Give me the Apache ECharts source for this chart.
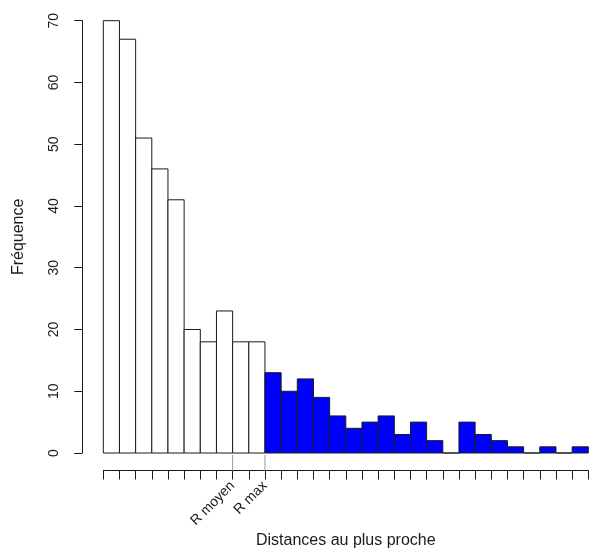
<!DOCTYPE html>
<html>
<head>
<meta charset="utf-8">
<script src="https://cdn.jsdelivr.net/npm/echarts@6/dist/echarts.min.js"></script>
<style>
  html, body { margin: 0; padding: 0; background: #fff; }
  #chart { width: 589px; height: 550px; }
</style>
</head>
<body>
<div id="chart"></div>
<script>
// Histogram counts per distance class (first classes up to R max, then beyond)
var countsWithin = [70, 67, 51, 46, 41, 20, 18, 23, 18, 18];
var countsBeyond = [13, 10, 12, 9, 6, 4, 5, 6, 3, 5, 2, 0, 5, 3, 2, 1, 0, 1, 0, 1];

// Class boundaries that carry a label on the x axis
var markerBreaks = [8, 10];
var markerLabels = ['R moyen', 'R max'];

var yTicks = [0, 10, 20, 30, 40, 50, 60, 70];

var FONT = 'Liberation Sans, Arial, Helvetica, sans-serif';
var INK = '#1a1a1a';

var nBins = countsWithin.length + countsBeyond.length;
var barData = [];
countsWithin.forEach(function (v, i) { barData.push([i, v, 0]); });
countsBeyond.forEach(function (v, i) { barData.push([countsWithin.length + i, v, 1]); });

var markerData = markerBreaks.map(function (b) { return [b]; });

function renderBar(params, api) {
  var i = api.value(0);
  var v = api.value(1);
  var top = api.coord([i, v]);
  var bottom = api.coord([i + 1, 0]);
  return {
    type: 'rect',
    shape: { x: top[0], y: top[1], width: bottom[0] - top[0], height: bottom[1] - top[1] },
    style: { fill: api.value(2) ? '#0000ff' : '#ffffff', stroke: INK, lineWidth: 1 }
  };
}

function renderMarker(params, api) {
  var base = api.coord([api.value(0), 0]);
  return {
    type: 'line',
    shape: { x1: base[0], y1: base[1] + 2, x2: base[0], y2: base[1] + 17.5 },
    style: { stroke: '#9a9a9a', lineWidth: 1 }
  };
}

var chart = echarts.init(document.getElementById('chart'), null, { renderer: 'canvas' });
chart.setOption({
  animation: false,
  backgroundColor: '#ffffff',
  grid: { left: 103.3, right: 0.7, top: 20.7, bottom: 97, containLabel: false, outerBoundsMode: 'none' },
  xAxis: {
    type: 'value',
    min: 0,
    max: nBins,
    interval: 1,
    offset: 17.5,
    splitLine: { show: false },
    axisLine: { show: true, onZero: false, lineStyle: { color: INK, width: 1 } },
    axisTick: { show: true, length: 9, lineStyle: { color: INK, width: 1 } },
    axisLabel: {
      rotate: 45,
      margin: 13,
      fontFamily: FONT,
      fontSize: 14,
      color: INK,
      formatter: function (val) {
        var k = markerBreaks.indexOf(val);
        return k >= 0 ? markerLabels[k] : '';
      }
    },
    name: 'Distances au plus proche',
    nameLocation: 'middle',
    nameGap: 62,
    nameMoveOverlap: false,
    nameTextStyle: { fontFamily: FONT, fontSize: 16, color: INK }
  },
  yAxis: {
    type: 'value',
    position: 'left',
    min: yTicks[0],
    max: yTicks[yTicks.length - 1],
    interval: 10,
    offset: 21,
    splitLine: { show: false },
    axisLine: { show: true, onZero: false, lineStyle: { color: INK, width: 1 } },
    axisTick: { show: true, length: 8, lineStyle: { color: INK, width: 1 } },
    axisLabel: { rotate: 90, margin: 21, fontFamily: FONT, fontSize: 14, color: INK },
    name: 'Fréquence',
    nameLocation: 'middle',
    nameGap: 56,
    nameMoveOverlap: false,
    nameTextStyle: { fontFamily: FONT, fontSize: 16, color: INK }
  },
  series: [
    {
      type: 'custom',
      renderItem: renderBar,
      data: barData,
      encode: { x: 0, y: 1 },
      clip: false
    },
    {
      type: 'custom',
      renderItem: renderMarker,
      data: markerData,
      encode: { x: 0 },
      clip: false,
      z: 1
    }
  ]
});
</script>
</body>
</html>
